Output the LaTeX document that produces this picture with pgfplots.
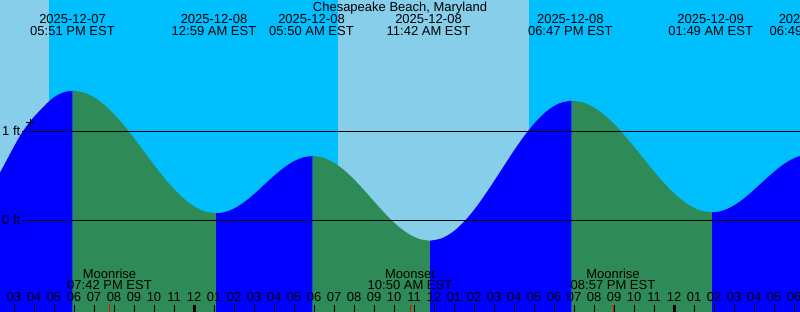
\documentclass[border=0pt]{standalone}
\usepackage{fontspec}
\setmainfont{Liberation Sans}
\usepackage{pgfplots}
\pgfplotsset{compat=1.18}
\definecolor{night}{HTML}{00BFFF}
\definecolor{day}{HTML}{87CEEB}
\definecolor{rise}{HTML}{0000FF}
\definecolor{fall}{HTML}{2E8B57}
\newcommand\lab{\fontsize{13bp}{15bp}\selectfont}
\begin{document}
\begin{tikzpicture}
\useasboundingbox (0,0) rectangle (800bp,312bp);
\begin{axis}[
 at={(0,0)}, anchor=south west,
 scale only axis, width=800bp, height=312bp,
 xmin=-9.7, xmax=30.3, ymin=-1.0303, ymax=2.4753,
 axis line style={draw=none},
 ytick=\empty,
 xtick={-9,...,30},
 xticklabels={\mbox{03},\mbox{04},\mbox{05},\mbox{06},\mbox{07},\mbox{08},\mbox{09},\mbox{10},\mbox{11},\mbox{12},
  \mbox{01},\mbox{02},\mbox{03},\mbox{04},\mbox{05},\mbox{06},\mbox{07},\mbox{08},\mbox{09},\mbox{10},\mbox{11},\mbox{12},
  \mbox{01},\mbox{02},\mbox{03},\mbox{04},\mbox{05},\mbox{06},\mbox{07},\mbox{08},\mbox{09},\mbox{10},\mbox{11},\mbox{12},
  \mbox{01},\mbox{02},\mbox{03},\mbox{04},\mbox{05},\mbox{06}},
 xtick pos=left, tick align=inside,
 major tick length=7bp,
 every tick/.style={black, line width=1bp},
 xticklabel style={font=\lab, anchor=base, yshift=10.3bp, inner sep=0pt},
 extra x ticks={0,24}, extra x tick labels={},
 extra x tick style={every tick/.style={black, line width=3bp}},
 axis on top=true,
]
% daylight / night background
\addplot[fill=day, draw=none] coordinates {(-9.8,-1.1) (-9.8,2.6) (30.4,2.6) (30.4,-1.1)} -- cycle;
\addplot[fill=night, draw=none] coordinates {(-7.25,-1.1) (-7.25,2.6) (7.185,2.6) (7.185,-1.1)} -- cycle;
\addplot[fill=night, draw=none] coordinates {(16.75,-1.1) (16.75,2.6) (30.4,2.6) (30.4,-1.1)} -- cycle;
% tide (ft), rising = blue, falling = green
\addplot[fill=rise, draw=none, smooth] coordinates {
(-10,0.421) (-9.7,0.537) (-9.45,0.64) (-9.2,0.745) (-8.9,0.87) (-8.6,0.985) (-8.2,1.11) (-7.95,1.175)
(-7.7,1.235) (-7.25,1.337) (-6.95,1.39) (-6.7,1.421) (-6.4,1.446) (-6.065,1.456)} |- (axis cs:-10,-1.2) -- cycle;
\addplot[fill=fall, draw=none, smooth] coordinates {
(-6.065,1.456) (-5.468,1.433) (-4.871,1.364) (-4.274,1.254) (-3.677,1.112) (-3.080,0.946) (-2.483,0.768)
(-1.886,0.589) (-1.289,0.423) (-0.692,0.281) (-0.094,0.171) (0.503,0.102) (1.1,0.079)} |- (axis cs:-6.065,-1.2) -- cycle;
\addplot[fill=rise, draw=none, smooth] coordinates {
(1.1,0.079) (1.503,0.090) (1.906,0.122) (2.309,0.173) (2.712,0.240) (3.115,0.317) (3.518,0.4005)
(3.920,0.484) (4.323,0.561) (4.726,0.628) (5.129,0.679) (5.532,0.711) (5.935,0.722)} |- (axis cs:1.1,-1.2) -- cycle;
\addplot[fill=fall, draw=none, smooth] coordinates {
(5.935,0.722) (6.424,0.706) (6.913,0.658) (7.401,0.583) (7.890,0.484) (8.379,0.370) (8.868,0.2465)
(9.356,0.123) (9.845,0.009) (10.334,-0.090) (10.823,-0.165) (11.311,-0.213) (11.8,-0.229)} |- (axis cs:5.935,-1.2) -- cycle;
\addplot[fill=rise, draw=none, smooth] coordinates {
(11.8,-0.229) (12.390,-0.202) (12.981,-0.124) (13.571,0.001) (14.162,0.164) (14.752,0.354) (15.343,0.5575)
(15.933,0.761) (16.523,0.951) (17.114,1.114) (17.704,1.239) (18.295,1.317) (18.885,1.344)} |- (axis cs:11.8,-1.2) -- cycle;
\addplot[fill=fall, draw=none, smooth] coordinates {
(18.885,1.344) (19.470,1.323) (20.054,1.260) (20.639,1.160) (21.224,1.031) (21.808,0.879) (22.393,0.717)
(22.977,0.555) (23.562,0.4035) (24.147,0.274) (24.731,0.174) (25.316,0.111) (25.9,0.090)} |- (axis cs:18.885,-1.2) -- cycle;
\addplot[fill=rise, draw=none, smooth] coordinates {
(25.9,0.090) (26.308,0.101) (26.717,0.1335) (27.125,0.185) (27.533,0.252) (27.942,0.331) (28.35,0.4145)
(28.758,0.498) (29.167,0.577) (29.575,0.644) (29.983,0.6955) (30.392,0.728) (30.8,0.739)} |- (axis cs:25.9,-1.2) -- cycle;
% datum lines
\addplot[black, line width=1bp] coordinates {(-8.6,1) (30.4,1)};
\addplot[black, line width=1bp] coordinates {(-8.6,0) (30.4,0)};
% current time mark
\addplot[only marks, mark=+, mark size=4bp, black, line width=1bp] coordinates {(-8.2,1.097)};
% moon event ticks
\addplot[red, line width=1bp] coordinates {(-4.235,-1.1) (-4.235,-0.9517)};
\addplot[red, line width=1bp] coordinates {(10.835,-1.1) (10.835,-0.9517)};
\addplot[red, line width=1bp] coordinates {(20.965,-1.1) (20.965,-0.9517)};
\end{axis}
\begin{scope}[shift={(0,312bp)}, x=1bp, y=-1bp, every node/.style={font=\lab, inner sep=0pt, anchor=base}]
\node at (400,11.7) {Chesapeake Beach, Maryland};
\foreach \x/\d/\tm in {72.5/2025-12-07/05:51 PM EST, 214/2025-12-08/12:59 AM EST, 311.5/2025-12-08/05:50 AM EST,
  428.5/2025-12-08/11:42 AM EST, 570.3/2025-12-08/06:47 PM EST, 710.7/2025-12-09/01:49 AM EST, 812/2025-12-09/06:49 AM EST}
  {\node at (\x,24) {\d}; \node at (\x,36) {\tm};}
\node at (109.5,278.3) {Moonrise}; \node at (109.5,290) {07:42 PM EST};
\node at (410,278.3) {Moonset}; \node at (410,290) {10:50 AM EST};
\node at (613,278.3) {Moonrise}; \node at (613,290) {08:57 PM EST};
\node[anchor=base east] at (20.5,135.8) {1 ft};
\node[anchor=base east] at (20.5,224.8) {0 ft};
\end{scope}
\end{tikzpicture}
\end{document}
